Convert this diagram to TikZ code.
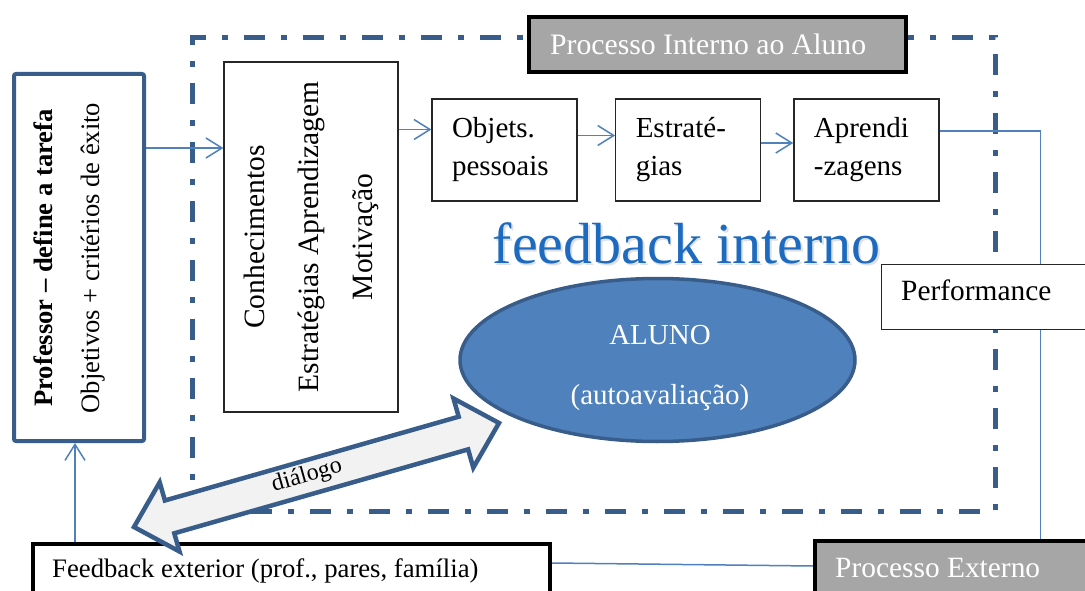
\documentclass[tikz,border=0pt]{standalone}
\usepackage{fontspec}
\setmainfont{Liberation Serif}
\usetikzlibrary{arrows.meta,shapes.geometric}

\definecolor{frameblue}{RGB}{56,93,138}
\definecolor{linkblue}{RGB}{79,129,189}
\definecolor{titlegray}{RGB}{166,166,166}
\definecolor{fbblue}{RGB}{28,107,192}
\definecolor{arrowfill}{RGB}{242,242,242}

\newcommand{\pxfont}[2]{\fontsize{#1}{#2}\selectfont}

\tikzset{
  thinbox/.style={draw=black!85, line width=1.3pt, fill=white, inner sep=0pt},
  heavybox/.style={draw=black, line width=4pt, inner sep=0pt},
  stagebox/.style={thinbox, minimum width=145pt, minimum height=102pt,
    text width=105pt, inner xsep=20pt, align=left, font=\pxfont{29}{38}},
  label/.style={inner sep=0pt, anchor=base west},
  link/.style={draw=linkblue, line width=1.5pt},
  linkarrow/.style={link, -{Straight Barb[length=16pt,width=20pt]}},
  boundary/.style={draw=frameblue, line width=5pt,
    dash pattern=on 21pt off 16pt on 6pt off 16pt, inner sep=0pt},
}

\begin{document}
\begin{tikzpicture}[x=1pt,y=-1pt]
\useasboundingbox (0,0) rectangle (1085,591);
\fill[white] (0,0) rectangle (1085,591);
\clip (0,0) rectangle (1085,591);

% dash-dot boundary of the internal process
\node[boundary, minimum width=803pt, minimum height=473pt] (frame) at (593.5,274.5) {};

% teacher box
\node[draw=frameblue, line width=4pt, rounded corners=2pt, inner sep=0pt,
      minimum width=130pt, minimum height=367pt] (prof) at (79,257.5) {};
\node[rotate=90, align=center, inner sep=0pt, font=\pxfont{26.6}{47}] (proftext) at (69,258)
  {\textbf{Professor – define a tarefa}\\Objetivos + critérios de êxito};

% prior knowledge box
\node[thinbox, minimum width=174pt, minimum height=350pt] (conh) at (311,237) {};
\node[rotate=90, align=center, inner sep=0pt, font=\pxfont{29.5}{54}] (conhtext) at (conh.center)
  {Conhecimentos\\Estratégias Aprendizagem\\Motivação};

% chain of stages
\node[stagebox] (obj) at (504.5,150) {Objets.\\pessoais};
\node[stagebox] (estr) at (688.25,150) {Estraté-\\gias};
\node[stagebox] (apr) at (866.35,150) {Aprendi\\-zagens};

% title of the internal process
\node[heavybox, fill=titlegray, minimum width=376.5pt, minimum height=55pt]
  (title) at (717.25,44.5) {};
\node[label, text=white, font=\pxfont{29.7}{35}] (titletext) at (550,55)
  {Processo Interno ao Aluno};

% performance box
\node[thinbox, anchor=north west, minimum width=220pt, minimum height=65pt]
  (perf) at (880.6,263.6) {};
\node[label, font=\pxfont{29.4}{35}] (perftext) at (901,300) {Performance};

% external process and feedback boxes
\node[heavybox, fill=titlegray, anchor=north west, minimum width=287pt, minimum height=81pt]
  (pext) at (813,539) {};
\node[label, text=white, font=\pxfont{29.4}{35}] (pexttext) at (835,577)
  {Processo Externo};
\node[heavybox, fill=white, anchor=north west, minimum width=517pt, minimum height=80pt]
  (fb) at (31,542) {};
\node[label, font=\pxfont{26.7}{31}] (fbtext) at (52,577)
  {Feedback exterior (prof., pares, família)};

% heading inside the boundary, with a soft drop shadow
\node[label, text=black, opacity=0.12, font=\pxfont{58}{70}] (fbshadow)
  at (494,265.5) {feedback interno};
\node[label, text=fbblue, font=\pxfont{58}{70}] (fbint)
  at (492.5,263) {feedback interno};

% the student
\node[ellipse, draw=frameblue, line width=3.5pt, fill=linkblue, inner sep=0pt,
      minimum width=395pt, minimum height=163pt] (aluno) at (657.5,360) {};
\node[align=center, inner sep=0pt, text=white, font=\pxfont{29}{60.5}] (alunotext) at (660,368)
  {ALUNO\\(autoavaliação)};

% helper coordinates for the connectors
\coordinate (y148) at (0,148);
\coordinate (y129) at (0,129.5);
\coordinate (y136) at (0,135.5);
\coordinate (y143) at (0,143);
\coordinate (y131) at (0,131);
\coordinate (x1040) at (1040.5,0);
\coordinate (x75) at (75,0);
\coordinate (y563) at (0,563);
\coordinate (y566) at (0,566);

% connectors
\draw[linkarrow] (prof.east |- y148) -- (conh.west |- y148);
\draw[linkarrow] (conh.east |- y129) -- (obj.west |- y129);
\draw[linkarrow] (obj.east |- y136) -- (estr.west |- y136);
\draw[linkarrow] (estr.east |- y143) -- (apr.west |- y143);
\draw[link] (apr.east |- y131) -| (perf.north -| x1040);
\draw[link] (perf.south -| x1040) -- (pext.north -| x1040);
\draw[link] (fb.east |- y563) -- (pext.west |- y566);
\draw[linkarrow] (fb.north -| x75) -- (prof.south -| x75);

% two-way dialogue arrow
\draw[draw=frameblue, line width=4.5pt, fill=arrowfill, line join=miter]
  (134,527) -- (179.5,551.5) -- (174.3,533.3) -- (468.1,449.4) -- (473.3,467.7)
  -- (499,423) -- (453.5,398.5) -- (458.7,416.7) -- (164.9,500.5) -- (159.7,482.3)
  -- cycle;
\node[rotate=15.9, inner sep=0pt, font=\pxfont{24}{29}] (dialogo) at (307,476) {diálogo};
\end{tikzpicture}
\end{document}
